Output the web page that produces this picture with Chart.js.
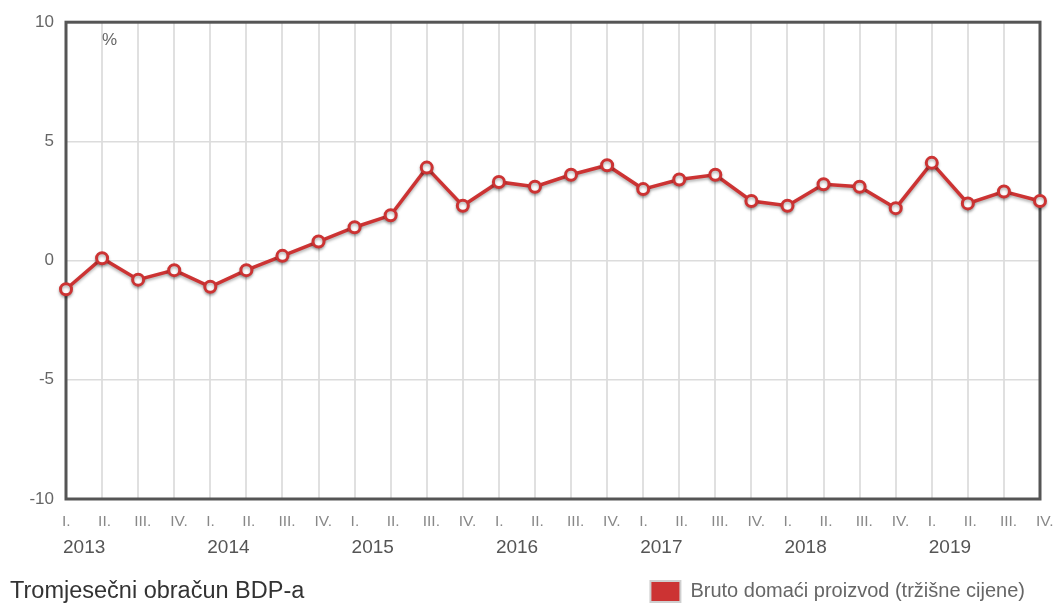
<!DOCTYPE html>
<html>
<head>
<meta charset="utf-8">
<script src="https://cdn.jsdelivr.net/npm/chart.js@4/dist/chart.umd.min.js"></script>
<style>
  html, body { margin: 0; padding: 0; background: #fff; }
  .wrap { position: relative; width: 1056px; height: 606px; }
  .title {
    position: absolute; left: 10px; top: 577px;
    font-family: 'Liberation Sans', Arial, sans-serif;
    font-size: 23.5px; color: #333;
  }
</style>
</head>
<body>
<div class="wrap">
  <canvas id="gdpChart" width="1056" height="606"></canvas>
  <div class="title">Tromjesečni obračun BDP-a</div>
</div>
<script>
const years = ['2013', '2014', '2015', '2016', '2017', '2018', '2019'];
const quarters = ['I.', 'II.', 'III.', 'IV.'];
const gdp = [
  -1.2, 0.1, -0.8, -0.4,
  -1.1, -0.4, 0.2, 0.8,
  1.4, 1.9, 3.9, 2.3,
  3.3, 3.1, 3.6, 4.0,
  3.0, 3.4, 3.6, 2.5,
  2.3, 3.2, 3.1, 2.2,
  4.1, 2.4, 2.9, 2.5
];
const yTicks = [-10, -5, 0, 5, 10];

const labels = [];
years.forEach(y => quarters.forEach(q => labels.push(q + '|' + y)));

const FONT = "'Liberation Sans', Arial, sans-serif";
const RED = '#cc3333';

// frame around the plot + the "%" note, drawn under the line
const framePlugin = {
  id: 'frame',
  beforeDatasetsDraw(chart) {
    const { ctx, chartArea: a } = chart;
    ctx.save();
    ctx.strokeStyle = '#555';
    ctx.lineWidth = 3;
    ctx.strokeRect(a.left, a.top, a.right - a.left, a.bottom - a.top);
    ctx.fillStyle = '#666';
    ctx.font = '17px ' + FONT;
    ctx.textBaseline = 'middle';
    ctx.fillText('%', a.left + 36, a.top + 18);
    ctx.restore();
  },
  beforeDatasetDraw(chart) {
    const ctx = chart.ctx;
    ctx.save();
    ctx.shadowColor = 'rgba(0,0,0,0.3)';
    ctx.shadowBlur = 3;
    ctx.shadowOffsetY = 2;
  },
  afterDatasetDraw(chart) {
    chart.ctx.restore();
  }
};

const noSidePad = (h) => (s) => { s.height = h; s.paddingLeft = 0; s.paddingRight = 0; };

new Chart(document.getElementById('gdpChart'), {
  type: 'line',
  data: {
    labels: labels,
    datasets: [{
      label: 'Bruto domaći proizvod (tržišne cijene)',
      data: gdp,
      borderColor: RED,
      backgroundColor: RED,
      borderWidth: 3.5,
      pointRadius: 5.5,
      pointBorderWidth: 3,
      pointBackgroundColor: '#fff',
      pointBorderColor: RED,
      tension: 0,
      clip: false
    }]
  },
  options: {
    responsive: false,
    animation: false,
    layout: { padding: { top: 22, right: 16, left: 0, bottom: -6 } },
    plugins: {
      tooltip: { enabled: false },
      legend: {
        position: 'bottom',
        align: 'end',
        labels: {
          color: '#666',
          font: { size: 20, family: FONT },
          boxWidth: 30,
          boxHeight: 21,
          padding: 15,
          generateLabels: (chart) => chart.data.datasets.map((ds, i) => ({
            text: ds.label,
            fillStyle: RED,
            strokeStyle: '#cfcfcf',
            lineWidth: 2,
            fontColor: '#666',
            datasetIndex: i
          }))
        }
      }
    },
    scales: {
      x: {
        offset: false,
        grid: { color: '#e0e0e0', lineWidth: 2, drawTicks: false },
        border: { display: false },
        afterFit: noSidePad(33),
        ticks: {
          autoSkip: false,
          maxRotation: 0,
          align: 'start',
          labelOffset: -4,
          padding: 13,
          color: '#888',
          font: { size: 15.5, family: FONT },
          callback: function (v) { return this.getLabelForValue(v).split('|')[0]; }
        }
      },
      x2: {
        type: 'category',
        position: 'bottom',
        offset: false,
        grid: { display: false, drawTicks: false },
        border: { display: false },
        afterFit: noSidePad(34),
        ticks: {
          autoSkip: false,
          maxRotation: 0,
          align: 'start',
          labelOffset: -3,
          padding: 4,
          color: '#555',
          font: { size: 19, family: FONT },
          callback: function (v) {
            const [q, y] = this.getLabelForValue(v).split('|');
            return q === quarters[0] ? y : '';
          }
        }
      },
      y: {
        min: yTicks[0],
        max: yTicks[yTicks.length - 1],
        afterFit: (s) => { s.width = 66; },
        grid: { color: '#dcdcdc', lineWidth: 1.5, drawTicks: false },
        border: { display: false },
        afterBuildTicks: (s) => { s.ticks = yTicks.map(v => ({ value: v })); },
        ticks: {
          padding: 12,
          color: '#666',
          font: { size: 17, family: FONT }
        }
      }
    }
  },
  plugins: [framePlugin]
});
</script>
</body>
</html>
